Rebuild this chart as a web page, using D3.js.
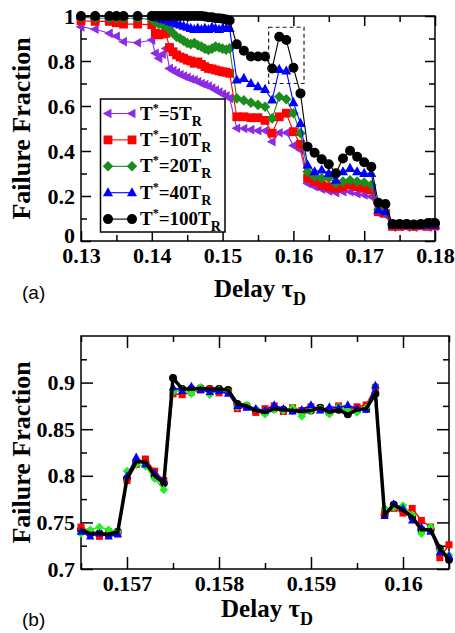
<!DOCTYPE html>
<html><head><meta charset="utf-8">
<script src="https://cdn.jsdelivr.net/npm/d3@7/dist/d3.min.js"></script>
<style>body{margin:0;background:#fff} svg{display:block}
.serif{font-family:"Liberation Serif","Times New Roman",Times,serif;font-weight:bold}
.sans{font-family:"Liberation Sans",Arial,sans-serif}
</style>
</head><body><svg id="c" width="455" height="633"></svg>
<script>
// ---------- DATA: panel (a) ----------
const xTop = [0.130,0.132,0.134,0.135,0.136,0.138,
  0.1400,0.1405,0.1410,0.1415,0.1420,0.1425,0.1430,0.1435,0.1440,0.1445,0.1450,0.1455,
  0.1460,0.1465,0.1470,0.1475,0.1480,0.1485,0.1490,0.1495,0.1500,0.1505,0.1510,
  0.152,0.153,0.154,0.155,0.156,0.157,0.158,0.159,0.160,0.161,0.162,0.163,0.164,0.165,
  0.166,0.167,0.168,0.169,0.170,0.171,0.172,0.173,0.174,0.175,0.176,0.177,0.178,0.179,0.180];
const fail5TR = [0.952,0.941,0.923,0.910,0.886,0.881,
  0.893,0.834,0.812,0.830,0.856,0.767,0.757,0.748,0.740,0.733,0.727,0.720,
  0.716,0.708,0.700,0.695,0.689,0.680,0.671,0.662,0.653,0.645,0.634,
  0.501,0.500,0.495,0.490,0.490,0.441,0.481,0.481,0.424,0.405,0.256,0.241,0.230,0.222,
  0.215,0.219,0.219,0.210,0.205,0.197,0.123,0.115,0.062,0.065,0.062,0.062,0.065,0.062,0.065];
const fail10TR = [0.979,0.976,0.976,0.970,0.964,0.964,
  0.961,0.923,0.916,0.920,0.923,0.860,0.841,0.827,0.818,0.812,0.804,0.800,
  0.790,0.796,0.785,0.775,0.767,0.765,0.760,0.756,0.752,0.750,0.745,
  0.552,0.552,0.548,0.548,0.536,0.479,0.552,0.568,0.486,0.430,0.279,0.264,0.249,0.241,
  0.234,0.241,0.249,0.241,0.234,0.227,0.130,0.123,0.065,0.065,0.068,0.065,0.068,0.065,0.068];
const fail20TR = [0.995,0.990,0.990,0.990,0.990,0.990,
  0.985,0.975,0.965,0.960,0.955,0.940,0.923,0.908,0.900,0.890,0.880,0.875,
  0.880,0.870,0.864,0.855,0.849,0.855,0.864,0.860,0.855,0.850,0.856,
  0.634,0.625,0.615,0.605,0.597,0.545,0.641,0.630,0.568,0.479,0.308,0.286,0.279,0.280,
  0.256,0.264,0.270,0.264,0.260,0.249,0.138,0.130,0.071,0.071,0.071,0.071,0.071,0.071,0.075];
const fail40TR = [1,1,1,1,1,1,
  1.000,0.995,0.990,0.985,0.982,0.975,0.970,0.965,0.960,0.955,0.950,0.945,
  0.940,0.945,0.940,0.945,0.940,0.950,0.945,0.940,0.945,0.945,0.945,
  0.716,0.723,0.700,0.686,0.674,0.627,0.763,0.756,0.615,0.523,0.338,0.308,0.316,0.301,
  0.271,0.308,0.323,0.308,0.301,0.301,0.138,0.130,0.071,0.071,0.071,0.071,0.071,0.071,0.071];
const fail100TR = [1,1,1,1,1,1,
  1,1,1,1,1,1,1,1,1,1,1,1,
  1,1,1,0.998,0.995,0.995,0.990,0.990,0.988,0.985,0.980,
  0.874,0.846,0.820,0.820,0.820,0.767,0.908,0.893,0.770,0.656,0.419,0.392,0.363,0.341,
  0.301,0.367,0.401,0.375,0.350,0.330,0.170,0.164,0.076,0.076,0.076,0.073,0.076,0.080,0.080];
const legendLabels = ["5","10","20","40","100"];
const xTicksTop = [0.13,0.14,0.15,0.16,0.17,0.18];
const xTickLabelsTop = ["0.13","0.14","0.15","0.16","0.17","0.18"];
const xMinorTop = [0.135,0.145,0.155,0.165,0.175];
const yTicksTop = [0,0.2,0.4,0.6,0.8,1];
const yTickLabelsTop = ["0","0.2","0.4","0.6","0.8","1"];
const yMinorTop = [0.1,0.3,0.5,0.7,0.9];
const zoomBox = [0.1565,0.1615,0.70,0.95];

// ---------- DATA: panel (b) ----------
const xBot = [0.1565,0.1566,0.1567,0.1568,0.1569,0.1570,0.1571,0.1572,0.1573,0.1574,
  0.1575,0.1576,0.1577,0.1578,0.1579,0.1580,0.1581,0.1582,0.1583,0.1584,
  0.1585,0.1586,0.1587,0.1588,0.1589,0.1590,0.1591,0.1592,0.1593,0.1594,
  0.1595,0.1596,0.1597,0.1598,0.1599,0.1600,0.1601,0.1602,0.1603,0.1604,0.1605];
const botBlack = [0.742,0.738,0.738,0.737,0.740,0.797,0.815,0.815,0.800,0.792,
  0.905,0.893,0.893,0.894,0.893,0.893,0.892,0.877,0.875,0.870,
  0.868,0.872,0.871,0.870,0.869,0.870,0.873,0.868,0.871,0.866,
  0.871,0.872,0.888,0.758,0.769,0.763,0.756,0.742,0.742,0.722,0.710];
const botRed = [0.745,0.740,0.735,0.740,0.738,0.795,0.812,0.818,0.805,0.795,
  0.888,0.887,0.890,0.892,0.893,0.889,0.890,0.872,0.874,0.868,
  0.872,0.875,0.869,0.873,0.870,0.874,0.871,0.869,0.875,0.870,
  0.874,0.876,0.895,0.760,0.765,0.760,0.765,0.752,0.745,0.712,0.726];
const botGreen = [0.738,0.742,0.745,0.742,0.740,0.805,0.812,0.810,0.797,0.785,
  0.890,0.892,0.888,0.895,0.887,0.892,0.890,0.874,0.876,0.872,
  0.866,0.871,0.870,0.873,0.864,0.870,0.872,0.866,0.874,0.870,
  0.868,0.873,0.896,0.765,0.766,0.768,0.758,0.738,0.745,0.720,0.715];
const botBlue = [0.740,0.735,0.738,0.735,0.737,0.800,0.820,0.812,0.803,0.795,
  0.895,0.891,0.896,0.892,0.890,0.891,0.888,0.875,0.873,0.872,
  0.870,0.876,0.872,0.869,0.871,0.876,0.870,0.874,0.873,0.876,
  0.872,0.871,0.897,0.757,0.770,0.765,0.752,0.745,0.740,0.718,0.714];
const xTicksBot = [0.157,0.158,0.159,0.160];
const xTickLabelsBot = ["0.157","0.158","0.159","0.16"];
const xMinorBot = [0.1565,0.1575,0.1585,0.1595,0.1605];
const yTicksBot = [0.7,0.75,0.8,0.85,0.9];
const yTickLabelsBot = ["0.7","0.75","0.8","0.85","0.9"];
const yMinorBot = [0.725,0.775,0.825,0.875,0.925];

// ---------- DRAWING ----------
const svg = d3.select("#c");

function shape(type, s) {
  if (type === "circle") return d3.symbol(d3.symbolCircle, Math.PI*s*s)();
  if (type === "square") return `M${-s},${-s}H${s}V${s}H${-s}Z`;
  if (type === "diamond") return `M0,${-s*1.2}L${s*1.2},0L0,${s*1.2}L${-s*1.2},0Z`;
  if (type === "triUp") return `M0,${-s*1.15}L${s*1.05},${s*0.75}L${-s*1.05},${s*0.75}Z`;
  if (type === "triLeft") return `M${-s*1.15},0L${s*0.75},${-s*1.05}L${s*0.75},${s*1.05}Z`;
}

function frame(cfg) {
  const x = d3.scaleLinear().domain(cfg.xd).range([cfg.l, cfg.r]);
  const y = d3.scaleLinear().domain(cfg.yd).range([cfg.b, cfg.t]);
  const g = svg.append("g");
  const styleAxis = sel => {
    sel.attr("font-family", null).attr("font-size", null);
    sel.select(".domain").remove();
    sel.selectAll("line").attr("stroke","#000").attr("stroke-width",1.5);
    sel.selectAll("text").attr("class","serif").style("font-size","22px").attr("fill","#000");
  };
  const add = (axis, tx, ty) => g.append("g").attr("transform",`translate(${tx},${ty})`).call(axis).call(styleAxis);
  const M = cfg.major, m = cfg.minor;
  add(d3.axisBottom(x).tickValues(cfg.xt).tickSize(-M).tickPadding(6).tickFormat((d,i)=>cfg.xl[i]), 0, cfg.b);
  add(d3.axisBottom(x).tickValues(cfg.xm).tickSize(-m).tickFormat(""), 0, cfg.b);
  add(d3.axisTop(x).tickValues(cfg.xt).tickSize(-M).tickFormat(""), 0, cfg.t);
  add(d3.axisTop(x).tickValues(cfg.xm).tickSize(-m).tickFormat(""), 0, cfg.t);
  const yl = add(d3.axisLeft(y).tickValues(cfg.yt).tickSize(-M).tickPadding(6).tickFormat((d,i)=>cfg.yl[i]), cfg.l, 0);
  if (cfg.zeroShift) yl.selectAll("text").filter(d => d === cfg.yd[0]).attr("dy","0.05em");
  add(d3.axisLeft(y).tickValues(cfg.ym).tickSize(-m).tickFormat(""), cfg.l, 0);
  add(d3.axisRight(y).tickValues(cfg.yt).tickSize(-M).tickFormat(""), cfg.r, 0);
  add(d3.axisRight(y).tickValues(cfg.ym).tickSize(-m).tickFormat(""), cfg.r, 0);
  g.append("rect").attr("x",cfg.l).attr("y",cfg.t).attr("width",cfg.r-cfg.l).attr("height",cfg.b-cfg.t)
    .attr("fill","none").attr("stroke","#000").attr("stroke-width",1.5);
  // y title
  g.append("text").attr("class","serif").attr("transform",`translate(${cfg.ytx},${(cfg.t+cfg.b)/2}) rotate(-90)`)
    .attr("text-anchor","middle").style("font-size","26px").text("Failure Fraction");
  // x title
  const xt = g.append("text").attr("class","serif").attr("x",(cfg.l+cfg.r)/2 + 2).attr("y",cfg.xty)
    .attr("text-anchor","middle").style("font-size","25px");
  xt.append("tspan").text("Delay \u03C4");
  xt.append("tspan").attr("dy",8).style("font-size","18px").text("D");
  // panel label
  g.append("text").attr("class","sans").attr("x",22).attr("y",cfg.ply).style("font-size","19px").text(cfg.pl);
  return {x, y, g};
}

function series(p, xs, ys, color, type, s, lw) {
  const line = d3.line().x((d,i)=>p.x(xs[i])).y(d=>p.y(d));
  const gg = p.g.append("g");
  gg.append("path").attr("d", line(ys)).attr("fill","none").attr("stroke",color).attr("stroke-width",lw);
  if (type) gg.selectAll("path.m").data(ys).enter().append("path").attr("class","m")
    .attr("transform",(d,i)=>`translate(${p.x(xs[i])},${p.y(d)})`)
    .attr("d", shape(type, s)).attr("fill",color);
}

// ---- Panel (a)
const pa = frame({xd:[0.13,0.18], yd:[0,1], l:81, r:435, t:16, b:241,
  xt:xTicksTop, xl:xTickLabelsTop, xm:xMinorTop, yt:yTicksTop, yl:yTickLabelsTop, ym:yMinorTop,
  major:10, minor:6, ytx:30, xty:297, ply:299, pl:"(a)", zeroShift:true});
const topSeries = [
  {ys:fail5TR, c:"#8b2be2", t:"triLeft", s:4.6},
  {ys:fail10TR, c:"#ff0000", t:"square", s:4.4},
  {ys:fail20TR, c:"#1c8c1c", t:"diamond", s:4.4},
  {ys:fail40TR, c:"#0000ff", t:"triUp", s:4.8},
  {ys:fail100TR, c:"#000000", t:"circle", s:5}
];
topSeries.forEach(d => series(pa, xTop, d.ys, d.c, d.t, d.s, 1.1));
// dashed zoom box
pa.g.append("rect").attr("x",pa.x(zoomBox[0])).attr("y",pa.y(zoomBox[3]))
  .attr("width",pa.x(zoomBox[1])-pa.x(zoomBox[0])).attr("height",pa.y(zoomBox[2])-pa.y(zoomBox[3]))
  .attr("fill","none").attr("stroke","#222").attr("stroke-width",1.2).attr("stroke-dasharray","4,3");
// legend
const lg = pa.g.append("g");
lg.append("rect").attr("x",100.5).attr("y",99).attr("width",124.5).attr("height",133)
  .attr("fill","#fff").attr("stroke","#000").attr("stroke-width",1.5);
topSeries.forEach((d,i) => {
  const yy = 113.5 + i*26.4;
  lg.append("line").attr("x1",108).attr("x2",132).attr("y1",yy).attr("y2",yy).attr("stroke",d.c).attr("stroke-width",1.1);
  [108,132].forEach(xx => lg.append("path").attr("transform",`translate(${xx},${yy})`).attr("d",shape(d.t,d.s)).attr("fill",d.c));
  const t = lg.append("text").attr("class","serif").attr("x",140).attr("y",yy+6).style("font-size","19px");
  t.append("tspan").text("T");
  t.append("tspan").attr("dy",-8).style("font-size","12px").text("*");
  t.append("tspan").attr("dy",8).text("=" + legendLabels[i] + "T");
  t.append("tspan").attr("dy",6).style("font-size","14px").text("R");
});

// ---- Panel (b)
const pb = frame({xd:[0.1565,0.1605], yd:[0.7,0.95], l:81, r:449, t:336, b:569,
  xt:xTicksBot, xl:xTickLabelsBot, xm:xMinorBot, yt:yTicksBot, yl:yTickLabelsBot, ym:yMinorBot,
  major:12, minor:6, ytx:30, xty:617, ply:626, pl:"(b)"});
series(pb, xBot, botBlack, "#000000", "circle", 4, 1.5);
series(pb, xBot, botRed, "#ff0000", "square", 3.5, 1.5);
series(pb, xBot, botGreen, "#22ee22", "diamond", 3.6, 1.5);
series(pb, xBot, botBlue, "#0000ff", "triUp", 4, 1.5);
series(pb, xBot, botBlack, "#000000", null, 0, 3.5);
</script></body></html>
